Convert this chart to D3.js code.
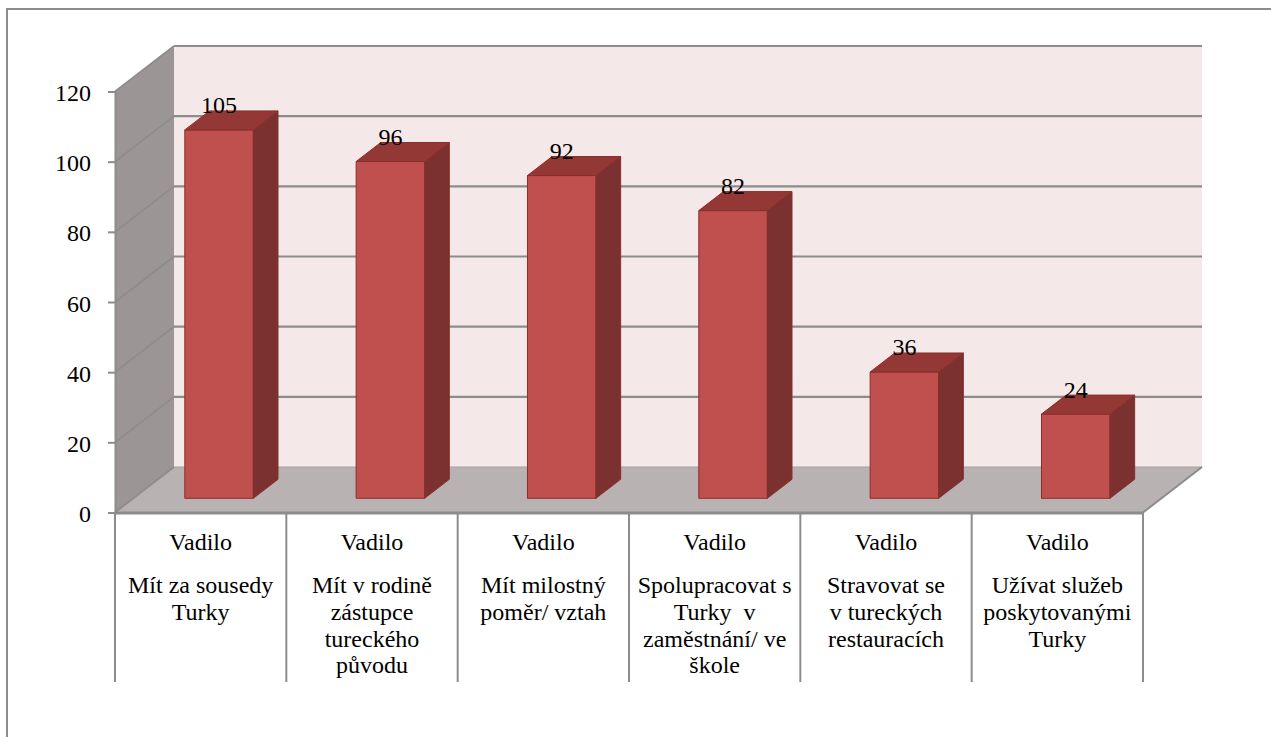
<!DOCTYPE html>
<html>
<head>
<meta charset="utf-8">
<script src="https://cdn.jsdelivr.net/npm/d3@7/dist/d3.min.js"></script>
<style>
  html, body { margin: 0; padding: 0; background: #ffffff; }
  svg { display: block; }
</style>
</head>
<body>
<svg id="chart" width="1271" height="737"></svg>
<script>
// Category labels (each line of a label separated by "\n")
const categories = [
  "Vadilo\nMít za sousedy\nTurky",
  "Vadilo\nMít v rodině\nzástupce\ntureckého\npůvodu",
  "Vadilo\nMít milostný\npoměr/ vztah",
  "Vadilo\nSpolupracovat s\nTurky  v\nzaměstnání/ ve\nškole",
  "Vadilo\nStravovat se\nv tureckých\nrestauracích",
  "Vadilo\nUžívat služeb\nposkytovanými\nTurky"
];
const values = [105, 96, 92, 82, 36, 24];
const yTicks = [0, 20, 40, 60, 80, 100, 120];

const FONT = "'Liberation Serif', 'Tinos', 'Times New Roman', 'DejaVu Serif', serif";

const svg = d3.select("#chart");

// Front plane geometry and 3D depth offset
const left = 115, right = 1143;
const depthX = 59, depthY = -45.5;
const y = d3.scaleLinear().domain([0, 120]).range([512.5, 91.5]);
const x = d3.scaleBand().domain(d3.range(categories.length)).range([left, right]).padding(0);

// Project a point on the front plane to a depth fraction z (0 = front, 1 = back wall)
const P = (px, py, z) => [px + z * depthX, py + z * depthY];
const poly = pts => "M" + pts.map(p => p.join(",")).join("L") + "Z";

const gridCol = "#8c8c8c";

// Outer frame (top and left edges inside the view)
svg.append("path")
  .attr("d", "M7,737L7,9L1271,9")
  .attr("fill", "none").attr("stroke", gridCol).attr("stroke-width", 2);

const yMin = y(0), yMax = y(120);

// Left side wall
svg.append("path")
  .attr("d", poly([[left, yMin], P(left, yMin, 1), P(left, yMax, 1), [left, yMax]]))
  .attr("fill", "#9b9695");

// Back wall
svg.append("path")
  .attr("d", poly([P(left, yMin, 1), P(right, yMin, 1), P(right, yMax, 1), P(left, yMax, 1)]))
  .attr("fill", "#f5e8e8");

// Gridlines on the back wall and the side wall
const grid = svg.append("g").attr("stroke", gridCol).attr("fill", "none");
yTicks.forEach(t => {
  const a = P(left, y(t), 1), b = P(right, y(t), 1);
  if (t > 0) {
    grid.append("line").attr("x1", a[0]).attr("y1", a[1]).attr("x2", b[0]).attr("y2", b[1])
      .attr("stroke-width", 2.2);
  }
  grid.append("line").attr("x1", left).attr("y1", y(t)).attr("x2", a[0]).attr("y2", a[1])
    .attr("stroke-width", 1.6);
});

// Floor
svg.append("path")
  .attr("d", poly([[left, yMin], [right, yMin], P(right, yMin, 1), P(left, yMin, 1)]))
  .attr("fill", "#b9b2b2");
const fb = P(left, yMin, 1), fr = P(right, yMin, 1);
svg.append("line").attr("x1", fb[0]).attr("y1", fb[1]).attr("x2", fr[0]).attr("y2", fr[1])
  .attr("stroke", "#a8a0a0").attr("stroke-width", 1);
svg.append("line").attr("x1", left).attr("y1", yMin).attr("x2", fb[0]).attr("y2", fb[1])
  .attr("stroke", gridCol).attr("stroke-width", 1.6);
svg.append("line").attr("x1", right).attr("y1", yMin).attr("x2", fr[0]).attr("y2", fr[1])
  .attr("stroke", gridCol).attr("stroke-width", 2);
svg.append("line").attr("x1", left).attr("y1", yMin + 0.5).attr("x2", right).attr("y2", yMin + 0.5)
  .attr("stroke", gridCol).attr("stroke-width", 3);

// 3D bars
const z0 = 0.312, z1 = 0.73;
const barW = x.bandwidth() * 0.4;
const bars = svg.append("g");
const labels = svg.append("g");
values.forEach((v, i) => {
  const cx = x(i) + x.bandwidth() / 2;
  const xl = cx - barW / 2, xr = cx + barW / 2;
  const g = bars.append("g").attr("stroke", "#8a2e2c").attr("stroke-width", 1).attr("stroke-linejoin", "round");
  // front
  g.append("path").attr("d", poly([P(xl, y(0), z0), P(xr, y(0), z0), P(xr, y(v), z0), P(xl, y(v), z0)]))
    .attr("fill", "#c0504d");
  // side
  g.append("path").attr("d", poly([P(xr, y(0), z0), P(xr, y(0), z1), P(xr, y(v), z1), P(xr, y(v), z0)]))
    .attr("fill", "#7b3130");
  // top
  g.append("path").attr("d", poly([P(xl, y(v), z0), P(xr, y(v), z0), P(xr, y(v), z1), P(xl, y(v), z1)]))
    .attr("fill", "#943836");
  // value label
  const lp = P(cx, y(v), z1);
  labels.append("text")
    .attr("x", cx + z0 * depthX)
    .attr("y", lp[1] + 2.5)
    .attr("text-anchor", "middle")
    .style("font-family", FONT)
    .style("font-size", "24px")
    .attr("fill", "#000")
    .text(v);
});

// Value axis on the front plane
const yAxis = d3.axisLeft(y).tickValues(yTicks).tickSize(7).tickSizeOuter(0).tickPadding(17);
const ag = svg.append("g").attr("transform", `translate(${left},0)`).call(yAxis);
ag.select(".domain").attr("stroke", gridCol).attr("stroke-width", 2);
ag.selectAll(".tick line").attr("stroke", gridCol).attr("stroke-width", 2);
ag.selectAll(".tick text")
  .style("font-family", FONT)
  .style("font-size", "24px")
  .attr("fill", "#000")
  .attr("dy", "0.38em");

// Category table below the floor
const tableTop = yMin, tableBottom = 682;
const bounds = d3.range(categories.length + 1).map(i => i < categories.length ? x(i) : right);
svg.append("g").selectAll("line").data(bounds).join("line")
  .attr("x1", d => d).attr("x2", d => d)
  .attr("y1", tableTop).attr("y2", tableBottom)
  .attr("stroke", gridCol).attr("stroke-width", 2);

const baselines = [550, 593, 620, 647, 673];
categories.forEach((c, i) => {
  const cx = x(i) + x.bandwidth() / 2;
  const t = svg.append("text").attr("text-anchor", "middle")
    .style("font-family", FONT).style("font-size", "24px").attr("fill", "#000")
    .style("white-space", "pre");
  c.split("\n").forEach((line, k) => {
    t.append("tspan").attr("x", cx).attr("y", baselines[k]).text(line);
  });
});
</script>
</body>
</html>
